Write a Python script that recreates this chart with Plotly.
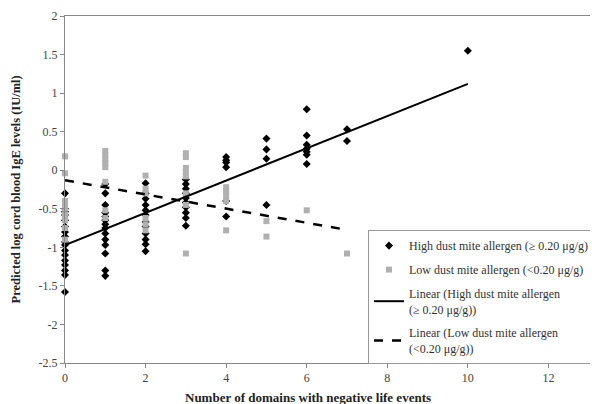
import plotly.graph_objects as go

# ---- data ----
high_x = ([0] * 17 + [1] * 14 + [2] * 12 + [3] * 10 + [4] * 6 + [5] * 4 + [6] * 7 + [7] * 2 + [10])
high_y = [
    -0.30, -0.50, -0.54, -0.58, -0.65, -0.73, -0.80, -0.86, -0.93, -0.97, -1.04, -1.10, -1.17, -1.23, -1.30, -1.36, -1.58,
    -0.18, -0.30, -0.45, -0.55, -0.60, -0.65, -0.70, -0.75, -0.82, -0.90, -0.97, -1.08, -1.30, -1.37,
    -0.17, -0.30, -0.37, -0.45, -0.52, -0.58, -0.67, -0.73, -0.82, -0.90, -0.96, -1.05,
    -0.12, -0.18, -0.24, -0.30, -0.36, -0.42, -0.48, -0.55, -0.62, -0.72,
    0.17, 0.13, 0.10, 0.04, -0.40, -0.60,
    0.41, 0.27, 0.15, -0.45,
    0.79, 0.45, 0.33, 0.28, 0.24, 0.20, 0.08,
    0.53, 0.38,
    1.55,
]
low_x = ([0] * 9 + [1] * 8 + [2] * 6 + [3] * 8 + [4] * 5 + [5] * 2 + [6] + [7])
low_y = [
    0.18, -0.04, -0.40, -0.45, -0.50, -0.58, -0.65, -0.75, -0.90,
    0.25, 0.20, 0.14, 0.09, 0.04, -0.15, -0.52, -0.62,
    -0.07, -0.24, -0.30, -0.62, -0.70, -0.78,
    0.22, 0.17, 0.03, -0.02, -0.08, -0.30, -0.45, -1.08,
    -0.22, -0.27, -0.33, -0.40, -0.78,
    -0.66, -0.86,
    -0.52,
    -1.08,
]
# linear trend lines (intercept, slope, x-span)
high_fit = {"intercept": -0.97, "slope": 0.209, "x": [0, 10]}
low_fit = {"intercept": -0.13, "slope": -0.092, "x": [0, 7]}

x_ticks = [0, 2, 4, 6, 8, 10, 12]
y_ticks = [2, 1.5, 1, 0.5, 0, -0.5, -1, -1.5, -2, -2.5]
y_ticklabels = ["2", "1.5", "1", "0.5", "0", "-0.5", "-1", "-1.5", "-2", "-2.5"]

x_title = "Number of domains with negative life events"
y_title = "Predicted log cord blood IgE levels (IU/ml)"

SERIF = "Liberation Serif, Times New Roman, serif"

fig = go.Figure()
fig.add_trace(go.Scatter(
    x=high_x, y=high_y, mode="markers", legendgroup="a", cliponaxis=False,
    name="High dust mite allergen (\u2265 0.20 \u03bcg/g)",
    marker=dict(symbol="diamond", size=6.2, color="black"),
))
fig.add_trace(go.Scatter(
    x=low_x, y=low_y, mode="markers", legendgroup="b", cliponaxis=False,
    name="Low dust mite allergen (<0.20 \u03bcg/g)",
    marker=dict(symbol="square", size=6, color="#b0b0b0"),
))
fig.add_trace(go.Scatter(
    x=high_fit["x"],
    y=[high_fit["intercept"] + high_fit["slope"] * v for v in high_fit["x"]],
    mode="lines", legendgroup="c",
    name="Linear (High dust mite allergen<br>(\u2265 0.20 \u03bcg/g))",
    line=dict(color="black", width=2),
))
fig.add_trace(go.Scatter(
    x=low_fit["x"],
    y=[low_fit["intercept"] + low_fit["slope"] * v for v in low_fit["x"]],
    mode="lines", legendgroup="d",
    name="Linear (Low dust mite allergen<br>(<0.20 \u03bcg/g))",
    line=dict(color="black", width=2.5, dash="dash"),
))

# page body has an 8px default margin: layout compensates for it
fig.update_layout(
    width=598, height=404,
    margin=dict(l=57, r=8, t=7.6, b=49, autoexpand=False),
    paper_bgcolor="white", plot_bgcolor="white",
    font=dict(family=SERIF, size=12, color="#333"),
    showlegend=True,
    legend=dict(
        x=0.5685, y=0.383, xanchor="left", yanchor="top",
        bgcolor="white", bordercolor="#999", borderwidth=1,
        font=dict(family=SERIF, size=12, color="#333"),
        tracegroupgap=5, itemwidth=30,
    ),
    xaxis=dict(
        range=[0, 13.23], tickvals=x_ticks, ticktext=[str(t) for t in x_ticks],
        showline=True, linecolor="#888", linewidth=1, mirror=True,
        ticks="outside", ticklen=4, tickcolor="#888",
        showgrid=False, zeroline=False, automargin=False,
        tickfont=dict(family=SERIF, size=12, color="#444"),
    ),
    yaxis=dict(
        range=[-2.5, 2], tickvals=y_ticks, ticktext=y_ticklabels,
        showline=True, linecolor="#888", linewidth=1,
        ticks="outside", ticklen=4, tickcolor="#888",
        showgrid=False, zeroline=False, automargin=False,
        tickfont=dict(family=SERIF, size=12, color="#444"),
    ),
    annotations=[
        dict(text="<b>" + x_title + "</b>", xref="paper", yref="paper",
             x=0.455, y=-0.1, xanchor="center", yanchor="middle", showarrow=False,
             font=dict(family=SERIF, size=13, color="#222")),
        dict(text="<b>" + y_title + "</b>", xref="paper", yref="paper",
             x=-0.092, y=0.5, xanchor="center", yanchor="middle", showarrow=False,
             textangle=-90, font=dict(family=SERIF, size=12.5, color="#222")),
    ],
)

fig.write_html("out.html")
